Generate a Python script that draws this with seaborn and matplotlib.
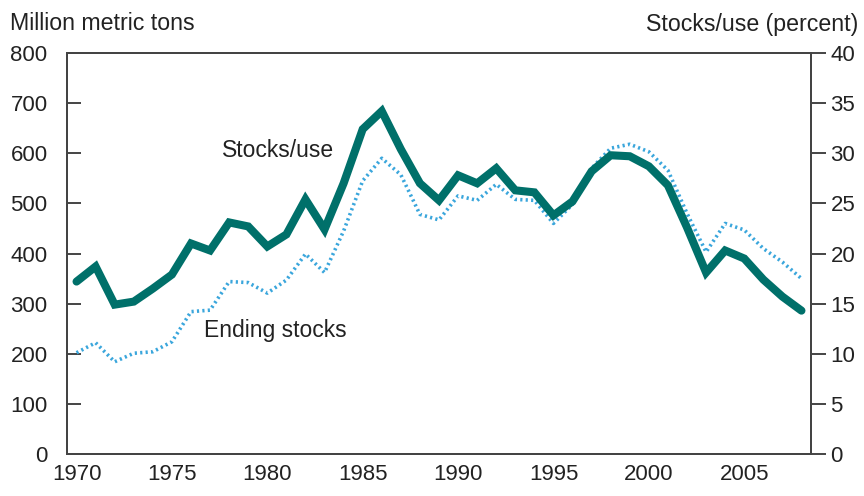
import matplotlib
matplotlib.use("Agg")
import matplotlib.pyplot as plt
import seaborn as sns
import pandas as pd

# Werte
years = list(range(1970, 2009))
ending_stocks = [202, 222, 184, 201, 204, 224, 284, 287, 344, 342,
                 321, 347, 399, 362, 445, 545, 590, 557, 478, 467,
                 515, 506, 538, 508, 506, 460, 498, 570, 610, 618,
                 603, 566, 480, 403, 460, 447, 410, 383, 350]
stocks_use = [17.2, 18.7, 14.9, 15.2, 16.5, 17.9, 21.0, 20.3, 23.1, 22.7,
              20.7, 21.9, 25.4, 22.4, 27.0, 32.4, 34.2, 30.4, 27.0, 25.3,
              27.8, 27.0, 28.5, 26.3, 26.1, 23.8, 25.2, 28.2, 29.8, 29.7,
              28.7, 26.8, 22.6, 18.1, 20.3, 19.5, 17.4, 15.7, 14.3]
year_ticks = [1970, 1975, 1980, 1985, 1990, 1995, 2000, 2005]
left_ticks = [0, 100, 200, 300, 400, 500, 600, 700, 800]
right_ticks = [0, 5, 10, 15, 20, 25, 30, 35, 40]

df = pd.DataFrame({'ano': years, 'estoques': ending_stocks, 'uso': stocks_use})

sns.set_style("white")
plt.rcParams['font.family'] = ['Liberation Sans', 'DejaVu Sans']

teal = '#00706a'
blue = '#3aa6dc'
spine_col = '#444444'
txt_col = '#222222'

fig = plt.figure(figsize=(8.64, 4.96), dpi=100)
ax = fig.add_axes([67 / 864, 1 - 454 / 496, (811 - 67) / 864, (454 - 53) / 496])
ax2 = ax.twinx()

sns.lineplot(data=df, x='ano', y='estoques', ax=ax, color=blue,
             linewidth=2.6, linestyle=(0, (0.6, 0.9)), dash_capstyle='butt')
sns.lineplot(data=df, x='ano', y='uso', ax=ax2, color=teal, linewidth=5.8,
             solid_joinstyle='miter')

ax.set_xlim(1969.5, 2008.5)
ax.set_ylim(0, 800)
ax2.set_ylim(0, 40)
ax.set_xticks(years, minor=True)
ax.set_xticks(year_ticks)
ax.set_yticks(left_ticks)
ax2.set_yticks(right_ticks)

ax.set_xlabel('')
ax.set_ylabel('')
ax2.set_ylabel('')

for a in (ax, ax2):
    for s in a.spines.values():
        s.set_color(spine_col)
        s.set_linewidth(1.4)

ax.tick_params(axis='x', which='both', direction='in', length=9, width=1.4,
               color=spine_col, labelsize=16, pad=7, labelcolor=txt_col)
ax.tick_params(axis='y', direction='in', length=10, width=1.4,
               color=spine_col, labelsize=16, pad=14, labelcolor=txt_col)
ax2.tick_params(axis='y', direction='out', length=11, width=1.4,
                color=spine_col, labelsize=16, pad=3, labelcolor=txt_col)

# Beschriftungen der Linien
ax.text(1977.6, 606, 'Stocks/use', fontsize=16.5, color=txt_col, va='center')
ax.text(1976.7, 247, 'Ending stocks', fontsize=16.5, color=txt_col, va='center')

fig.text(10 / 864, 1 - 24 / 496, 'Million metric tons', fontsize=16.7,
         color=txt_col, va='center', ha='left')
fig.text(858 / 864, 1 - 24 / 496, 'Stocks/use (percent)', fontsize=16.7,
         color=txt_col, va='center', ha='right')

fig.savefig('out.png', dpi=100)
